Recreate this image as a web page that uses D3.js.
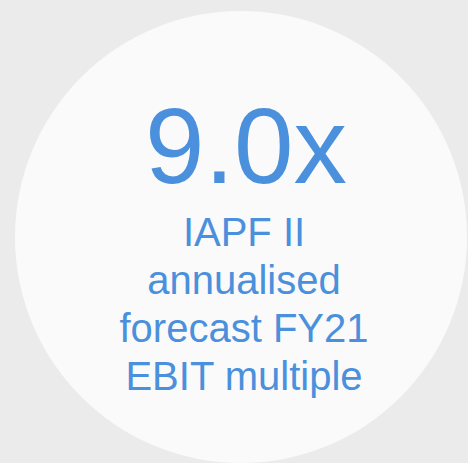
<!DOCTYPE html>
<html>
<head>
<meta charset="utf-8">
<script src="https://cdn.jsdelivr.net/npm/d3@7"></script>
<style>
  html, body { margin: 0; padding: 0; background: #ebebeb; }
</style>
</head>
<body>
<div id="chart"></div>
<script>
// Headline figure and caption lines
var values = [9.0];
var valueSuffix = ["x"];
var captionLines = ["IAPF II", "annualised", "forecast FY21", "EBIT multiple"];

var width = 468;
var height = 463;
var blue = "#4a90dc";

var svg = d3.select("#chart")
    .append("svg")
    .attr("width", width)
    .attr("height", height);

svg.append("rect")
    .attr("width", width)
    .attr("height", height)
    .attr("fill", "#ebebeb");

// Big disc behind the text
svg.append("circle")
    .attr("cx", 241)
    .attr("cy", 237)
    .attr("r", 226)
    .attr("fill", "#fafafa");

var fmt = d3.format(".1f");

svg.selectAll("text.value")
    .data(values)
    .enter()
    .append("text")
    .attr("class", "value")
    .attr("x", 246)
    .attr("y", 183)
    .attr("text-anchor", "middle")
    .style("font-family", "'Liberation Sans', Arial, sans-serif")
    .style("font-size", "107px")
    .style("fill", blue)
    .text(function (d, i) { return fmt(d) + valueSuffix[i]; });

// Caption, one line per entry
var lineY = d3.scaleLinear().domain([0, 1]).range([246, 294]);

svg.selectAll("text.caption")
    .data(captionLines)
    .enter()
    .append("text")
    .attr("class", "caption")
    .attr("x", 244)
    .attr("y", function (d, i) { return lineY(i); })
    .attr("text-anchor", "middle")
    .style("font-family", "'Liberation Sans', Arial, sans-serif")
    .style("font-size", "40px")
    .style("fill", blue)
    .text(function (d) { return d; });
</script>
</body>
</html>
